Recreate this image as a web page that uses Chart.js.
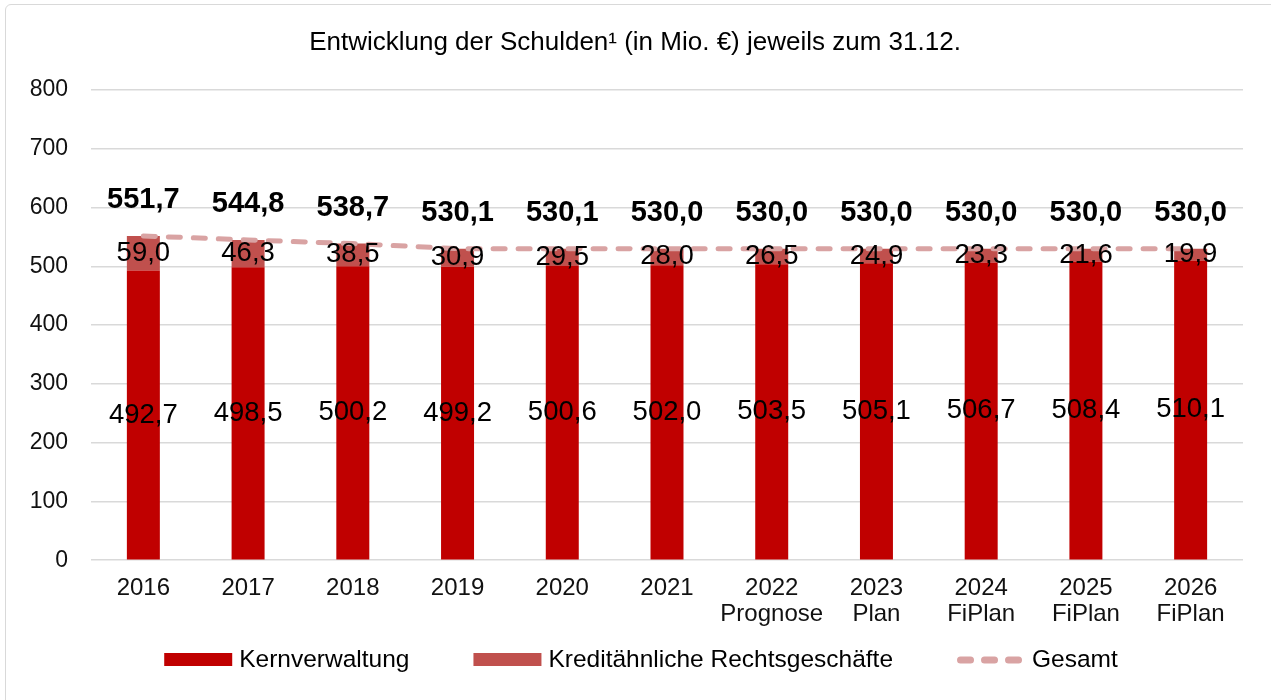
<!DOCTYPE html>
<html>
<head>
<meta charset="utf-8">
<script src="https://cdn.jsdelivr.net/npm/chart.js@4.4.1/dist/chart.umd.min.js"></script>
<style>
body { margin: 0; background: #fff; }
#frame { position: absolute; left: 5px; top: 4px; width: 1300px; height: 720px; border: 1.5px solid #d9d9d9; border-radius: 6px; }
#box { position: absolute; left: 0; top: 0; width: 1271px; height: 700px; }
</style>
</head>
<body>
<div id="frame"></div>
<div id="box"><canvas id="myChart" width="1271" height="700"></canvas></div>
<script>
// values (Mio. EUR)
var years = [["2016"], ["2017"], ["2018"], ["2019"], ["2020"], ["2021"],
    ["2022", "Prognose"], ["2023", "Plan"], ["2024", "FiPlan"], ["2025", "FiPlan"], ["2026", "FiPlan"]];
var kernverwaltung = [492.7, 498.5, 500.2, 499.2, 500.6, 502.0, 503.5, 505.1, 506.7, 508.4, 510.1];
var kreditaehnlich = [59.0, 46.3, 38.5, 30.9, 29.5, 28.0, 26.5, 24.9, 23.3, 21.6, 19.9];
var gesamt = [551.7, 544.8, 538.7, 530.1, 530.1, 530.0, 530.0, 530.0, 530.0, 530.0, 530.0];

var FONT = '"Liberation Sans", Arial, sans-serif';
var colKern = "#C00000";
var colKredit = "#C0504D";
var colGesamt = "#D9A3A3";

function fmt(v) {
    return v.toFixed(1).replace(".", ",");
}

// numbers on the bars and above the line
var valueLabels = {
    id: "valueLabels",
    afterDatasetsDraw: function (chart) {
        var ctx = chart.ctx;
        ctx.save();
        ctx.textAlign = "center";
        ctx.textBaseline = "middle";
        ctx.fillStyle = "#000";
        ctx.font = "27.5px " + FONT;
        [kernverwaltung, kreditaehnlich].forEach(function (arr, di) {
            chart.getDatasetMeta(di).data.forEach(function (bar, i) {
                ctx.fillText(fmt(arr[i]), bar.x, (bar.y + bar.base) / 2);
            });
        });
        ctx.font = "bold 29px " + FONT;
        chart.getDatasetMeta(2).data.forEach(function (pt, i) {
            ctx.fillText(fmt(gesamt[i]), pt.x, pt.y - 36);
        });
        ctx.restore();
    }
};

// legend drawn by hand so the spacing matches
var bottomLegend = {
    id: "bottomLegend",
    afterDraw: function (chart) {
        var ctx = chart.ctx;
        var items = [
            { text: "Kernverwaltung", color: colKern },
            { text: "Kreditähnliche Rechtsgeschäfte", color: colKredit },
            { text: "Gesamt", color: colGesamt, dashed: true }
        ];
        var boxW = 68, gap = 7, spacing = 64, y = 660;
        ctx.save();
        ctx.font = "24.5px " + FONT;
        var total = 0;
        items.forEach(function (it) {
            it.w = boxW + gap + ctx.measureText(it.text).width;
            total += it.w;
        });
        total += spacing * (items.length - 1);
        var x = 641 - total / 2;
        items.forEach(function (it) {
            if (it.dashed) {
                ctx.strokeStyle = it.color;
                ctx.lineWidth = 7;
                ctx.lineCap = "round";
                ctx.setLineDash([10, 14]);
                ctx.beginPath();
                ctx.moveTo(x + 3.5, y);
                ctx.lineTo(x + 64, y);
                ctx.stroke();
                ctx.setLineDash([]);
            } else {
                ctx.fillStyle = it.color;
                ctx.fillRect(x, y - 7, boxW, 13);
            }
            ctx.fillStyle = "#000";
            ctx.textAlign = "left";
            ctx.textBaseline = "middle";
            ctx.fillText(it.text, x + boxW + gap, y);
            x += it.w + spacing;
        });
        ctx.restore();
    }
};

new Chart("myChart", {
    type: "bar",
    data: {
        labels: years,
        datasets: [{
            label: "Kernverwaltung",
            data: kernverwaltung,
            backgroundColor: colKern,
            stack: "schulden",
            order: 1,
            barPercentage: 0.315,
            categoryPercentage: 1
        }, {
            label: "Kreditähnliche Rechtsgeschäfte",
            data: kreditaehnlich,
            backgroundColor: colKredit,
            stack: "schulden",
            order: 1,
            barPercentage: 0.315,
            categoryPercentage: 1
        }, {
            type: "line",
            label: "Gesamt",
            data: gesamt,
            borderColor: colGesamt,
            borderWidth: 5,
            borderDash: [12, 13],
            borderCapStyle: "round",
            pointRadius: 0,
            fill: false,
            tension: 0,
            stack: "gesamt",
            order: 0
        }]
    },
    options: {
        responsive: false,
        animation: false,
        layout: { padding: { left: 27, right: 28, top: 0, bottom: 65 } },
        plugins: {
            legend: { display: false },
            tooltip: { enabled: false },
            title: {
                display: true,
                text: "Entwicklung der Schulden\u00B9 (in Mio. \u20AC) jeweils zum 31.12.",
                color: "#000",
                font: { family: FONT, size: 26, weight: "normal" },
                padding: { top: 27, bottom: 31.8 }
            }
        },
        scales: {
            x: {
                stacked: true,
                grid: { display: false },
                border: { display: false },
                ticks: {
                    color: "#111",
                    padding: 7,
                    autoSkip: false,
                    maxRotation: 0,
                    font: { family: FONT, size: 24, lineHeight: 1.1 }
                }
            },
            y: {
                stacked: true,
                min: 0,
                max: 800,
                afterFit: function (scale) { scale.width = 64; },
                grid: { color: "#D9D9D9", lineWidth: 1.5, drawTicks: false },
                border: { display: false },
                ticks: {
                    stepSize: 100,
                    color: "#111",
                    padding: 23,
                    font: { family: FONT, size: 23 }
                }
            }
        }
    },
    plugins: [valueLabels, bottomLegend]
});
</script>
</body>
</html>
